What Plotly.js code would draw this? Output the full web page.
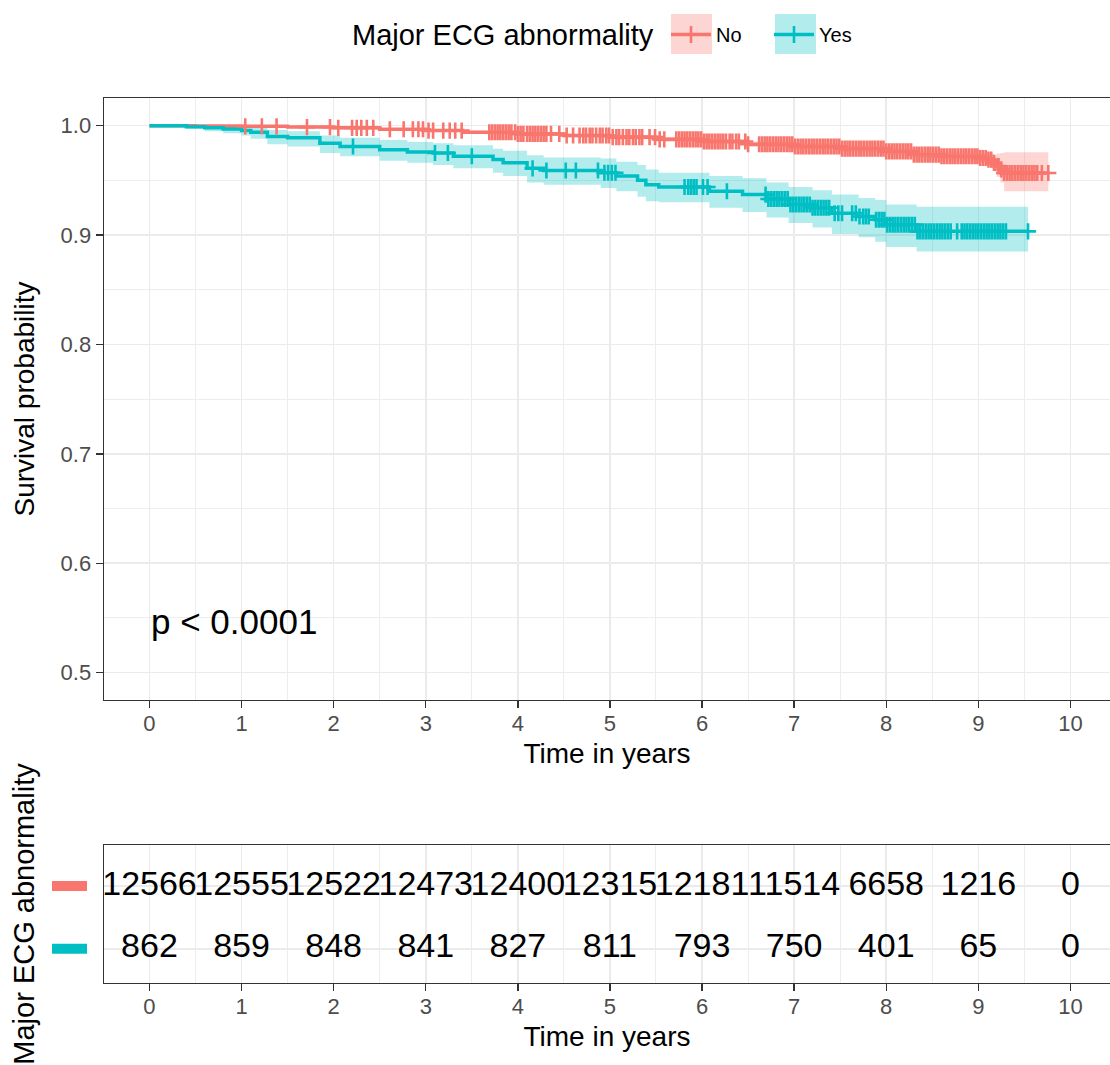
<!DOCTYPE html>
<html><head><meta charset="utf-8">
<script src="https://cdn.plot.ly/plotly-3.0.1.min.js"></script>
<style>html,body{margin:0;padding:0;background:#fff}</style>
</head><body>
<div id="chart" style="width:1110px;height:1065px"></div>
<script>
// ---------- DATA ----------
const legendTitle = 'Major ECG abnormality';
const groupNames = ['No', 'Yes'];
const groupColors = ['#F8766D', '#00BFC4'];

// Kaplan-Meier steps, group "No"
const noTimes = [0, 0.5, 1.0, 1.5, 2.0, 2.5, 3.0, 3.4, 4.0, 4.5, 5.0, 5.5, 6.0, 6.5, 7.0, 7.5, 8.0, 8.3, 8.6, 9.0, 9.1, 9.17, 9.2, 9.24, 9.28];
const noSurv  = [1, 0.9998, 0.9994, 0.9987, 0.998, 0.9967, 0.9955, 0.994, 0.9925, 0.991, 0.9895, 0.9875, 0.9855, 0.983, 0.981, 0.979, 0.9765, 0.9735, 0.972, 0.9705, 0.969, 0.966, 0.963, 0.960, 0.9567];
const noLower = [1, 0.9996, 0.999, 0.9981, 0.9972, 0.9957, 0.9943, 0.9926, 0.991, 0.9893, 0.9876, 0.9854, 0.9832, 0.9805, 0.9783, 0.9761, 0.9733, 0.970, 0.968, 0.966, 0.9635, 0.958, 0.953, 0.948, 0.940];
const noUpper = [1, 1, 0.9998, 0.9993, 0.9988, 0.9977, 0.9967, 0.9954, 0.994, 0.9927, 0.9914, 0.9896, 0.9878, 0.9855, 0.9837, 0.9819, 0.9797, 0.977, 0.976, 0.975, 0.9745, 0.9735, 0.9745, 0.975, 0.9756];
const noLastTime = 9.76;
const noCensor = [1.04, 1.22, 1.38, 1.71, 1.96, 2.05, 2.20, 2.25, 2.30, 2.36, 2.43, 2.61, 2.76, 2.86, 2.92, 2.97, 3.03, 3.08, 3.19, 3.26, 3.32, 3.39,
  3.69, 3.72, 3.75, 3.78, 3.81, 3.84, 3.87, 3.90, 3.93, 3.97, 4.00, 4.03, 4.06, 4.10, 4.13, 4.16, 4.19, 4.22, 4.25, 4.28, 4.31,
  4.36, 4.45, 4.53, 4.60, 4.67, 4.71, 4.74, 4.78, 4.81, 4.85, 4.89, 4.92, 4.96, 4.99, 5.03, 5.07, 5.10, 5.14, 5.18, 5.21, 5.25, 5.28, 5.32, 5.35,
  5.43, 5.49, 5.54, 5.59, 5.72, 5.75, 5.78, 5.81, 5.84, 5.87, 5.90, 5.93, 5.96, 5.99, 6.02, 6.05, 6.08, 6.11, 6.14, 6.17, 6.20, 6.23, 6.26,
  6.30, 6.33, 6.37, 6.40, 6.47, 6.50, 6.62, 6.65, 6.68, 6.71, 6.74, 6.77, 6.80, 6.83, 6.86, 6.89, 6.92, 6.95, 6.98, 7.01, 7.04, 7.07, 7.10,
  7.13, 7.16, 7.19, 7.22, 7.25, 7.28, 7.31, 7.34, 7.37, 7.40, 7.43, 7.46, 7.49, 7.52, 7.55, 7.58, 7.61, 7.64, 7.67, 7.70, 7.73, 7.76, 7.79,
  7.82, 7.85, 7.88, 7.91, 7.94, 7.97, 8.00, 8.03, 8.06, 8.09, 8.12, 8.15, 8.18, 8.21, 8.24, 8.27, 8.30, 8.33, 8.36, 8.39, 8.42, 8.45, 8.48,
  8.51, 8.54, 8.57, 8.60, 8.63, 8.66, 8.69, 8.72, 8.75, 8.78, 8.81, 8.84, 8.87, 8.90, 8.93, 8.96, 8.99, 9.02, 9.05, 9.08, 9.11, 9.14, 9.17,
  9.22, 9.25, 9.28, 9.31, 9.34, 9.37, 9.40, 9.43, 9.46, 9.49, 9.52, 9.55, 9.58, 9.61, 9.64, 9.69, 9.76];

// Kaplan-Meier steps, group "Yes"
const yesTimes = [0, 0.4, 0.6, 0.8, 1.0, 1.1, 1.28, 1.5, 1.85, 2.07, 2.5, 2.8, 3.08, 3.3, 3.73, 3.84, 4.1, 4.28, 4.9, 5.07, 5.3, 5.39, 5.53, 6.08, 6.44, 6.7, 6.94, 7.2, 7.41, 7.7, 7.88, 8.0, 8.33];
const yesSurv  = [1, 0.999, 0.998, 0.997, 0.9957, 0.994, 0.990, 0.989, 0.984, 0.981, 0.978, 0.976, 0.975, 0.972, 0.969, 0.966, 0.961, 0.959, 0.957, 0.954, 0.950, 0.946, 0.944, 0.940, 0.937, 0.933, 0.928, 0.925, 0.920, 0.917, 0.914, 0.9095, 0.9034];
const yesLower = [1, 0.997, 0.995, 0.993, 0.991, 0.988, 0.983, 0.981, 0.975, 0.972, 0.968, 0.966, 0.964, 0.961, 0.957, 0.954, 0.948, 0.946, 0.943, 0.940, 0.935, 0.931, 0.930, 0.925, 0.921, 0.916, 0.911, 0.907, 0.901, 0.898, 0.894, 0.889, 0.885];
const yesUpper = [1, 1, 1, 1, 0.9995, 0.999, 0.996, 0.995, 0.991, 0.989, 0.987, 0.985, 0.984, 0.982, 0.979, 0.977, 0.973, 0.971, 0.970, 0.967, 0.964, 0.960, 0.957, 0.954, 0.952, 0.948, 0.944, 0.941, 0.937, 0.934, 0.932, 0.928, 0.926];
const yesLastTime = 9.54;
const yesCensor = [2.21, 3.10, 3.24, 3.50, 4.16, 4.31, 4.52, 4.63, 4.87, 4.94, 4.98, 5.02, 5.06, 5.81, 5.85, 5.88, 5.91, 5.94, 6.01, 6.06, 6.27,
  6.69, 6.72, 6.75, 6.78, 6.81, 6.84, 6.87, 6.90, 6.93, 6.96, 6.99, 7.02, 7.05, 7.08, 7.11, 7.14, 7.17, 7.20, 7.23, 7.26, 7.29, 7.32, 7.35, 7.38,
  7.44, 7.48, 7.52, 7.63, 7.67, 7.71, 7.75, 7.78, 7.81, 7.89, 7.92, 7.95, 7.98, 8.01, 8.04, 8.07, 8.10, 8.13, 8.16, 8.19, 8.22, 8.25, 8.28,
  8.31, 8.34, 8.37, 8.40, 8.43, 8.46, 8.49, 8.52, 8.55, 8.58, 8.61, 8.64, 8.67, 8.70, 8.77, 8.82, 8.85, 8.88, 8.91, 8.94, 8.97, 9.00, 9.03,
  9.06, 9.09, 9.12, 9.15, 9.18, 9.21, 9.24, 9.27, 9.30, 9.54];

// Number at risk table
const riskTimes = [0, 1, 2, 3, 4, 5, 6, 7, 8, 9, 10];
const noAtRisk  = [12566, 12555, 12522, 12473, 12400, 12315, 12181, 11514, 6658, 1216, 0];
const yesAtRisk = [862, 859, 848, 841, 827, 811, 793, 750, 401, 65, 0];

const xTicks = [0, 1, 2, 3, 4, 5, 6, 7, 8, 9, 10];
const yTicks = [0.5, 0.6, 0.7, 0.8, 0.9, 1.0];
const pValueText = 'p < 0.0001';

// ---------- BUILD ----------
const FONT = 'Liberation Sans, Arial, Helvetica, sans-serif';
const W = 1110, H = 1065;
const px = v => v / W;
const py = v => 1 - v / H;

function stepAt(ts, vs, t) {
  let v = vs[0];
  for (let i = 0; i < ts.length; i++) if (ts[i] <= t) v = vs[i];
  return v;
}
function fillRgba(hex, a) {
  const r = parseInt(hex.slice(1, 3), 16), g = parseInt(hex.slice(3, 5), 16), b = parseInt(hex.slice(5, 7), 16);
  return `rgba(${r},${g},${b},${a})`;
}

const groups = [
  {name: groupNames[0], color: groupColors[0], t: noTimes, s: noSurv, lo: noLower, hi: noUpper, end: noLastTime, cens: noCensor, risk: noAtRisk},
  {name: groupNames[1], color: groupColors[1], t: yesTimes, s: yesSurv, lo: yesLower, hi: yesUpper, end: yesLastTime, cens: yesCensor, risk: yesAtRisk}
];

const traces = [];
groups.forEach(g => {
  const xs = g.t.concat([g.end]);
  traces.push({x: xs, y: g.hi.concat([g.hi[g.hi.length - 1]]), type: 'scatter', mode: 'lines',
    line: {width: 0, shape: 'hv', color: g.color}, showlegend: false, hoverinfo: 'skip', xaxis: 'x', yaxis: 'y'});
  traces.push({x: xs, y: g.lo.concat([g.lo[g.lo.length - 1]]), type: 'scatter', mode: 'lines',
    line: {width: 0, shape: 'hv', color: g.color}, fill: 'tonexty', fillcolor: fillRgba(g.color, 0.3),
    showlegend: false, hoverinfo: 'skip', xaxis: 'x', yaxis: 'y'});
});
groups.forEach(g => {
  traces.push({x: g.t.concat([g.end]), y: g.s.concat([g.s[g.s.length - 1]]), type: 'scatter', mode: 'lines',
    line: {width: 3.5, shape: 'hv', color: g.color}, showlegend: false, name: g.name, xaxis: 'x', yaxis: 'y'});
});
groups.forEach(g => {
  traces.push({x: g.cens, y: g.cens.map(t => stepAt(g.t, g.s, t)), type: 'scatter', mode: 'markers',
    marker: {symbol: 'cross-thin-open', size: 11.5, color: g.color, line: {color: g.color, width: 2.6}},
    showlegend: false, name: g.name, xaxis: 'x', yaxis: 'y'});
});
groups.forEach(g => {
  traces.push({x: [null], y: [null], type: 'scatter', mode: 'lines+markers', name: g.name,
    line: {color: g.color, width: 3.5},
    marker: {symbol: 'cross-thin-open', size: 12, color: g.color, line: {color: g.color, width: 2.6}},
    showlegend: true, xaxis: 'x', yaxis: 'y'});
});
groups.forEach(g => {
  traces.push({x: riskTimes, y: riskTimes.map(() => g.name), text: g.risk.map(String), type: 'scatter', mode: 'text',
    textfont: {family: FONT, size: 34, color: '#000000'}, textposition: 'middle center',
    showlegend: false, hoverinfo: 'skip', xaxis: 'x2', yaxis: 'y2'});
});

const gridC = '#ebebeb', lineC = '#333333', tickC = '#4d4d4d';
const xRange = [-0.494, 10.43];
const baseX = {
  range: xRange, tickvals: xTicks, ticktext: xTicks.map(String), ticks: 'outside', ticklen: 7, tickwidth: 1.4, tickcolor: lineC,
  ticklabelstandoff: -4,
  showline: true, linecolor: lineC, linewidth: 1.4, mirror: true, zeroline: false,
  showgrid: true, gridcolor: gridC, gridwidth: 1.6,
  minor: {dtick: 0.5, tick0: 0.5, showgrid: true, gridcolor: gridC, gridwidth: 0.9},
  tickfont: {family: FONT, size: 22, color: tickC},
  title: {text: 'Time in years', font: {family: FONT, size: 28, color: '#000000'}, standoff: 8}
};

const layout = {
  width: W, height: H, margin: {l: 0, r: 0, t: 0, b: 0}, paper_bgcolor: '#ffffff', plot_bgcolor: '#ffffff',
  font: {family: FONT},
  xaxis: Object.assign({}, baseX, {domain: [px(104), 1], anchor: 'y'}),
  yaxis: {
    domain: [py(700), py(98)], range: [0.475, 1.0253], tickvals: yTicks, ticktext: yTicks.map(v => v.toFixed(1)),
    ticks: 'outside', ticklen: 7, tickwidth: 1.4, tickcolor: lineC,
    showline: true, linecolor: lineC, linewidth: 1.4, zeroline: false, anchor: 'x',
    showgrid: true, gridcolor: gridC, gridwidth: 1.6,
    minor: {dtick: 0.05, showgrid: true, gridcolor: gridC, gridwidth: 0.9},
    tickfont: {family: FONT, size: 22, color: tickC},
    title: {text: 'Survival probability', font: {family: FONT, size: 28, color: '#000000'}, standoff: 18}
  },
  xaxis2: Object.assign({}, baseX, {domain: [px(104), 1], anchor: 'y2'}),
  yaxis2: {
    domain: [py(983), py(845)], type: 'category', categoryorder: 'array', categoryarray: ['Yes', 'No'],
    range: [-0.546, 1.654], showticklabels: false, ticks: '', anchor: 'x2',
    showline: true, linecolor: lineC, linewidth: 1.4, zeroline: false,
    showgrid: true, gridcolor: gridC, gridwidth: 1.6,
    title: {text: 'Major ECG abnormality', font: {family: FONT, size: 29, color: '#000000'}, standoff: 59}
  },
  showlegend: true,
  legend: {
    orientation: 'h', x: px(666), xanchor: 'left', y: py(15), yanchor: 'top',
    bgcolor: 'rgba(0,0,0,0)', font: {family: FONT, size: 20, color: '#000000'},
    itemwidth: 40, entrywidth: 48, entrywidthmode: 'pixels', traceorder: 'normal'
  },
  annotations: [
    {xref: 'x', yref: 'y', x: 0, y: 0.547, xanchor: 'left', yanchor: 'middle', showarrow: false,
     text: pValueText, font: {family: FONT, size: 35, color: '#000000'}},
    {xref: 'paper', yref: 'paper', x: px(350), y: py(35), xanchor: 'left', yanchor: 'middle', showarrow: false,
     text: legendTitle, font: {family: FONT, size: 29, color: '#000000'}}
  ],
  shapes: [
    {type: 'rect', xref: 'paper', yref: 'y2', x0: px(52), x1: px(87), y0: 0.92, y1: 1.08, fillcolor: groupColors[0], line: {width: 0}},
    {type: 'rect', xref: 'paper', yref: 'y2', x0: px(52), x1: px(87), y0: -0.08, y1: 0.08, fillcolor: groupColors[1], line: {width: 0}},
    {type: 'rect', xref: 'paper', yref: 'paper', x0: px(671), x1: px(712), y0: py(54), y1: py(14), fillcolor: fillRgba(groupColors[0], 0.3), line: {width: 0}, layer: 'below'},
    {type: 'rect', xref: 'paper', yref: 'paper', x0: px(775), x1: px(816), y0: py(54), y1: py(14), fillcolor: fillRgba(groupColors[1], 0.3), line: {width: 0}, layer: 'below'}
  ]
};

Plotly.newPlot('chart', traces, layout, {displayModeBar: false, staticPlot: true});
</script>
</body></html>
